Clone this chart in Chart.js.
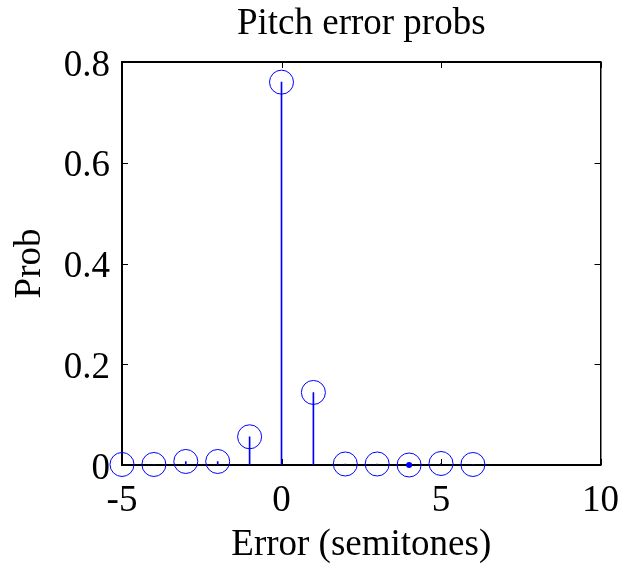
<!DOCTYPE html>
<html>
<head>
<meta charset="utf-8">
<script src="https://cdn.jsdelivr.net/npm/chart.js@4"></script>
<style>
  html, body { margin: 0; padding: 0; background: #fff; }
  #wrap { width: 625px; height: 568px; }
</style>
</head>
<body>
<div id="wrap"><canvas id="chart"></canvas></div>
<script>
// pitch error distribution, one stem per semitone offset
const errors = [-5, -4, -3, -2, -1, 0, 1, 2, 3, 4, 5, 6];
const probs = [0.001, 0.001, 0.007, 0.007, 0.056, 0.76, 0.144, 0.002, 0.002, 0, 0.003, 0.001];
const filledErrors = [4];
const xTicks = [-5, 0, 5, 10];
const yTicks = [0, 0.2, 0.4, 0.6, 0.8];

const serif = "'Liberation Serif', 'DejaVu Serif', serif";
const fontSize = 37;
const blue = '#0000ff';

const points = errors.map((e, i) => ({ x: e, y: probs[i] }));
const filledPoints = filledErrors.map(e => ({ x: e, y: probs[errors.indexOf(e)] }));

// short tick marks pointing into the plot box on all four sides
const inwardTicks = {
  id: 'inwardTicks',
  afterDraw(chart) {
    const { ctx, chartArea: a, scales: { x, y } } = chart;
    const len = 6;
    ctx.save();
    ctx.strokeStyle = '#000';
    ctx.lineWidth = 1;
    ctx.beginPath();
    xTicks.forEach(v => {
      const px = Math.round(x.getPixelForValue(v)) + 0.5;
      ctx.moveTo(px, a.bottom); ctx.lineTo(px, a.bottom - len);
      ctx.moveTo(px, a.top); ctx.lineTo(px, a.top + len);
    });
    yTicks.forEach(v => {
      const py = Math.round(y.getPixelForValue(v)) + 0.5;
      ctx.moveTo(a.left, py); ctx.lineTo(a.left + len, py);
      ctx.moveTo(a.right, py); ctx.lineTo(a.right - len, py);
    });
    ctx.stroke();
    ctx.restore();
  }
};

const ctx = document.getElementById('chart').getContext('2d');

new Chart(ctx, {
  type: 'scatter',
  data: {
    datasets: [
      {
        type: 'bar',
        data: points,
        backgroundColor: blue,
        barThickness: 1,
        xAxisID: 'x',
        yAxisID: 'y'
      },
      {
        type: 'scatter',
        data: points,
        pointStyle: 'circle',
        pointRadius: 12,
        pointBorderWidth: 1,
        pointBorderColor: blue,
        pointBackgroundColor: 'rgba(0,0,0,0)',
        clip: false
      },
      {
        type: 'scatter',
        data: filledPoints,
        pointRadius: 3,
        pointBorderWidth: 0,
        pointBackgroundColor: blue,
        clip: false
      }
    ]
  },
  options: {
    responsive: true,
    maintainAspectRatio: false,
    animation: false,
    layout: { padding: 0 },
    plugins: {
      legend: { display: false },
      tooltip: { enabled: false },
      title: {
        display: true,
        fullSize: false,
        text: 'Pitch error probs',
        color: '#000',
        font: { family: serif, size: fontSize, weight: 'normal' },
        padding: { top: 2, bottom: 0 }
      }
    },
    scales: {
      x: {
        type: 'linear',
        position: 'bottom',
        min: -5,
        max: 10,
        offset: false,
        afterBuildTicks: s => { s.ticks = xTicks.map(v => ({ value: v })); },
        afterFit: s => { s.height = 103; },
        grid: { display: false },
        border: { display: true, color: '#000', width: 2 },
        ticks: {
          color: '#000',
          padding: 6,
          maxRotation: 0,
          font: { family: serif, size: fontSize }
        },
        title: {
          display: true,
          text: 'Error (semitones)',
          color: '#000',
          font: { family: serif, size: fontSize },
          padding: { top: 0, bottom: 1 }
        }
      },
      xTop: {
        type: 'linear',
        position: 'top',
        min: -5,
        max: 10,
        afterFit: s => { s.height = 15.6; },
        grid: { display: false },
        border: { display: true, color: '#000', width: 2 },
        ticks: { display: false }
      },
      y: {
        type: 'linear',
        position: 'left',
        min: 0,
        max: 0.8,
        afterBuildTicks: s => { s.ticks = yTicks.map(v => ({ value: v })); },
        afterFit: s => { s.width = 122; },
        grid: { display: false },
        border: { display: true, color: '#000', width: 2 },
        ticks: {
          color: '#000',
          padding: 4,
          labelOffset: 4,
          font: { family: serif, size: fontSize },
          callback: v => v === 0 ? '0' : v.toFixed(1)
        },
        title: {
          display: true,
          text: 'Prob',
          color: '#000',
          font: { family: serif, size: fontSize },
          padding: { top: 8, bottom: 0 }
        }
      },
      yRight: {
        type: 'linear',
        position: 'right',
        min: 0,
        max: 0.8,
        afterFit: s => { s.width = 22; },
        grid: { display: false },
        border: { display: true, color: '#000', width: 1.5 },
        ticks: { display: false }
      }
    }
  },
  plugins: [inwardTicks]
});
</script>
</body>
</html>
